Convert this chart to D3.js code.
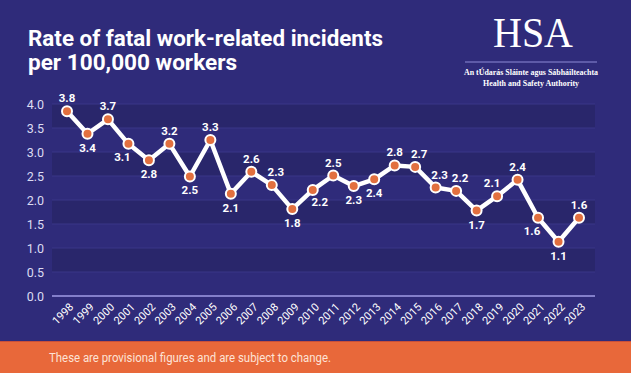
<!DOCTYPE html>
<html><head><meta charset="utf-8">
<script src="https://cdn.jsdelivr.net/npm/d3@7"></script>
<style>body{margin:0;background:#2f2b7a;}svg{display:block;}</style>
</head><body>
<script>
const years = ["1998","1999","2000","2001","2002","2003","2004","2005","2006","2007","2008","2009","2010","2011","2012","2013","2014","2015","2016","2017","2018","2019","2020","2021","2022","2023"];
const rates = [3.85,3.38,3.68,3.17,2.83,3.17,2.49,3.25,2.13,2.59,2.31,1.81,2.21,2.51,2.29,2.43,2.72,2.69,2.26,2.19,1.78,2.08,2.42,1.63,1.13,1.63];
const labels = ["3.8","3.4","3.7","3.1","2.8","3.2","2.5","3.3","2.1","2.6","2.3","1.8","2.2","2.5","2.3","2.4","2.8","2.7","2.3","2.2","1.7","2.1","2.4","1.6","1.1","1.6"];
const labelSide = ["t","b","t","bl","b","t","b","t","b","t","tr","b","br","t","b","b","t","tr","tr","tr","b","tl","t","bl","b","t"];
const yTicks = [0,0.5,1,1.5,2,2.5,3,3.5,4];
const titleLines = ["Rate of fatal work-related incidents","per 100,000 workers"];
const footnote = "These are provisional figures and are subject to change.";

const W = 631, H = 373;
const svg = d3.select("body").append("svg").attr("width", W).attr("height", H);
svg.append("rect").attr("width", W).attr("height", H).attr("fill", "#2f2b7a");

const x = d3.scalePoint().domain(years).range([67, 579]);
const y = d3.scaleLinear().domain([0, 4]).range([296, 104]);

// bands
const bands = [[3.5,4],[2.5,3],[1.5,2],[0.5,1]];
svg.append("g").selectAll("rect").data(bands).join("rect")
  .attr("x", 52).attr("width", 595 - 52)
  .attr("y", d => y(d[1])).attr("height", d => y(d[0]) - y(d[1]))
  .attr("fill", "#29266b");
svg.append("g").selectAll("line").data(yTicks.slice(1)).join("line")
  .attr("x1", 52).attr("x2", 595).attr("y1", d => y(d)).attr("y2", d => y(d))
  .attr("stroke", "#3a3688").attr("stroke-width", 1);
// baseline
svg.append("line").attr("x1", 52).attr("x2", 595).attr("y1", y(0)).attr("y2", y(0))
  .attr("stroke", "#a09de6").attr("stroke-width", 1.5);

// y axis
const yAxis = svg.append("g").attr("transform", "translate(44,0)")
  .call(d3.axisLeft(y).tickValues(yTicks).tickFormat(d3.format(".1f")).tickSize(0).tickPadding(0));
yAxis.select(".domain").remove();
yAxis.selectAll("text").attr("fill", "#dcdcf2").attr("font-family", "Roboto, sans-serif")
  .attr("font-size", 12.5).attr("dy", "0.35em");

// x axis
const xAxis = svg.append("g").attr("transform", `translate(0,${y(0)})`)
  .call(d3.axisBottom(x).tickSize(0).tickPadding(0));
xAxis.select(".domain").remove();
xAxis.selectAll("text").attr("fill", "#ffffff").attr("font-family", "Roboto, sans-serif")
  .attr("font-size", 11).attr("text-anchor", "end")
  .attr("transform", "translate(4,9) rotate(-45)").attr("dy", "0.35em").attr("y", 0);

// line
svg.append("path").datum(rates)
  .attr("d", d3.line().x((d, i) => x(years[i])).y(d => y(d)))
  .attr("fill", "none").attr("stroke", "#ffffff").attr("stroke-width", 4.5)
  .attr("stroke-linejoin", "round");
svg.append("g").selectAll("circle").data(rates).join("circle")
  .attr("cx", (d, i) => x(years[i])).attr("cy", d => y(d)).attr("r", 5)
  .attr("fill", "#e2703f").attr("stroke", "#ffffff").attr("stroke-width", 2);

// value labels
const off = {t:[0,-9], b:[0,18], bl:[-6,17], br:[7,16], tr:[4,-9], tl:[-5,-9]};
svg.append("g").selectAll("text").data(rates).join("text")
  .attr("x", (d, i) => x(years[i]) + off[labelSide[i]][0])
  .attr("y", (d, i) => y(d) + off[labelSide[i]][1])
  .attr("text-anchor", "middle").attr("fill", "#ffffff")
  .attr("font-family", "Roboto, sans-serif").attr("font-weight", 700).attr("font-size", 11.5)
  .text((d, i) => labels[i]);

// title
svg.append("g").selectAll("text").data(titleLines).join("text")
  .attr("x", 28).attr("y", (d, i) => 46 + i * 24)
  .attr("fill", "#ffffff").attr("font-family", "Roboto, sans-serif").attr("font-weight", 700)
  .attr("font-size", 21.5)
  .attr("textLength", (d, i) => i === 0 ? 355 : 209).attr("lengthAdjust", "spacingAndGlyphs")
  .text(d => d);

// logo
svg.append("text").attr("x", 533).attr("y", 47).attr("text-anchor", "middle")
  .attr("fill", "#ffffff").attr("font-family", "'Liberation Serif', 'Times New Roman', serif")
  .attr("font-size", 43).attr("textLength", 80).attr("lengthAdjust", "spacingAndGlyphs").text("HSA");
svg.append("line").attr("x1", 465).attr("x2", 597).attr("y1", 62).attr("y2", 62)
  .attr("stroke", "#8e8bd6").attr("stroke-width", 1);
svg.append("text").attr("x", 531).attr("y", 75).attr("text-anchor", "middle")
  .attr("fill", "#ffffff").attr("font-family", "'Liberation Serif', serif").attr("font-weight", 700)
  .attr("font-size", 8.5).attr("textLength", 134).attr("lengthAdjust", "spacingAndGlyphs")
  .text("An tÚdarás Sláinte agus Sábháilteachta");
svg.append("text").attr("x", 531).attr("y", 86).attr("text-anchor", "middle")
  .attr("fill", "#ffffff").attr("font-family", "'Liberation Serif', serif").attr("font-weight", 700)
  .attr("font-size", 8.5).attr("textLength", 96).attr("lengthAdjust", "spacingAndGlyphs")
  .text("Health and Safety Authority");

// footer
svg.append("rect").attr("x", 0).attr("y", 341).attr("width", W).attr("height", H - 341).attr("fill", "#c8503a");
svg.append("rect").attr("x", 0).attr("y", 342).attr("width", W).attr("height", H - 342).attr("fill", "#e8683a");
svg.append("text").attr("x", 49).attr("y", 362).attr("fill", "#fde3d6")
  .attr("font-family", "Roboto, sans-serif").attr("font-size", 12)
  .attr("textLength", 282).attr("lengthAdjust", "spacingAndGlyphs")
  .text(footnote);
</script>
</body></html>
